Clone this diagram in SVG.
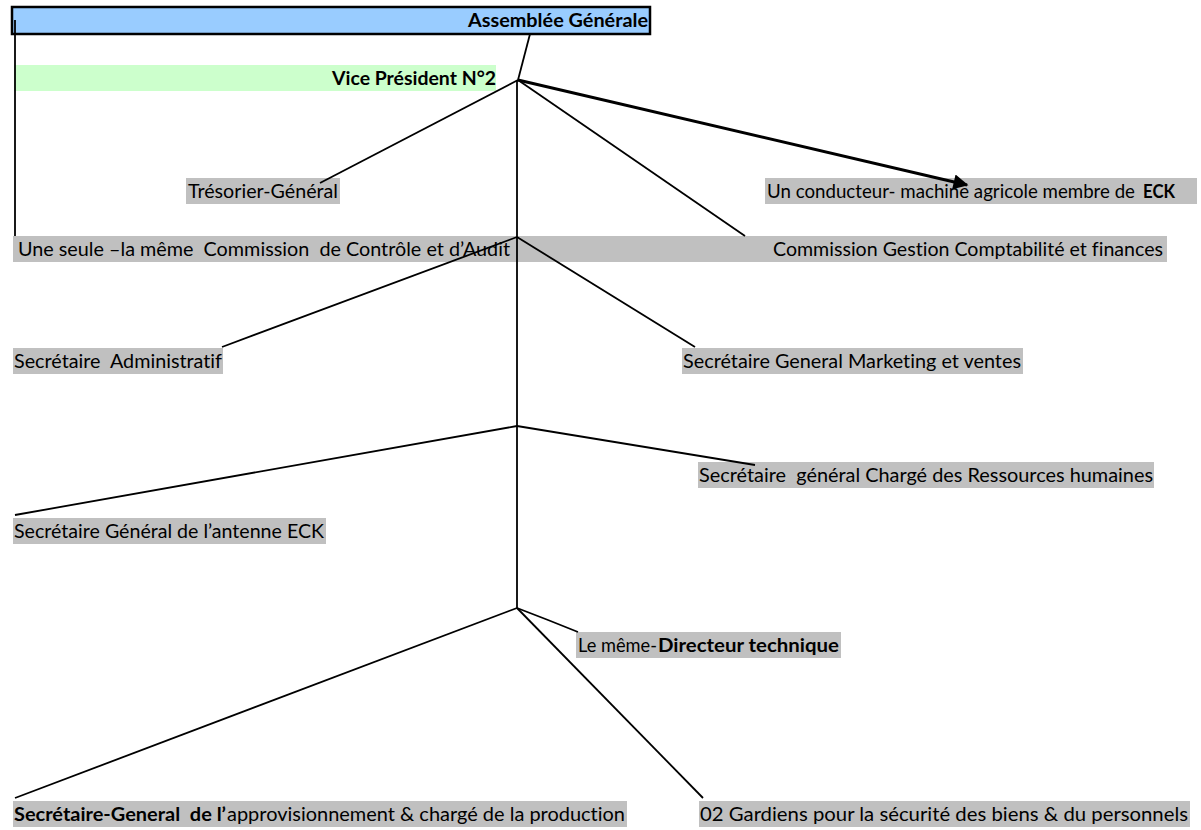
<svg xmlns="http://www.w3.org/2000/svg" width="1201" height="830" viewBox="0 0 1201 830">
<defs>
<style>
.t{font-family:Lato,"Liberation Sans",sans-serif;font-size:19.5px;fill:#000;white-space:pre;font-variant-ligatures:none}
.b{font-weight:bold}
.g{fill:#C0C0C0}
.ln{stroke:#000;stroke-width:1.8;fill:none}
</style>
<marker id="ah" viewBox="0 0 10 10" refX="9" refY="5" markerWidth="6" markerHeight="5" markerUnits="strokeWidth" orient="auto">
<path d="M0,0 L10,5 L0,10 z" fill="#000"/>
</marker>
</defs>
<rect width="1201" height="830" fill="#fff"/>
<g id="assemblee">
<rect x="12" y="7" width="638" height="27" fill="#99CCFF" stroke="#000" stroke-width="2.5"/>
<text class="t b" x="468" y="27" textLength="180" lengthAdjust="spacingAndGlyphs">Assemblée Générale</text>
</g>
<g id="vice-president">
<rect x="14" y="65" width="482" height="26" fill="#CCFFCC"/>
<text class="t b" x="332" y="85" textLength="164" lengthAdjust="spacingAndGlyphs">Vice Président N°2</text>
</g>
<g id="band">
<rect class="g" x="13" y="236" width="1154" height="26"/>
</g>
<g id="tresorier">
<rect class="g" x="186" y="178" width="154" height="26"/>
<text class="t" x="188" y="198" textLength="150" lengthAdjust="spacingAndGlyphs">Trésorier-Général</text>
</g>
<g id="conducteur">
<rect class="g" x="765" y="178" width="432" height="26"/>
<text class="t" x="767" y="198" style="font-size:19px" textLength="368" lengthAdjust="spacingAndGlyphs">Un conducteur- machine agricole membre de</text>
<text class="t b" x="1143" y="198" textLength="32" lengthAdjust="spacingAndGlyphs">ECK</text>
</g>
<g id="commission-audit">
<text class="t" x="18" y="256" textLength="492" lengthAdjust="spacingAndGlyphs">Une seule –la même  Commission  de Contrôle et d’Audit</text>
</g>
<g id="commission-gestion">
<text class="t" x="773" y="256" textLength="390" lengthAdjust="spacingAndGlyphs">Commission Gestion Comptabilité et finances</text>
</g>
<g id="sec-admin">
<rect class="g" x="13" y="348" width="210" height="26"/>
<text class="t" x="14" y="368" textLength="208" lengthAdjust="spacingAndGlyphs">Secrétaire  Administratif</text>
</g>
<g id="sec-marketing">
<rect class="g" x="682" y="348" width="341" height="26"/>
<text class="t" x="683" y="368" textLength="338" lengthAdjust="spacingAndGlyphs">Secrétaire General Marketing et ventes</text>
</g>
<g id="sec-rh">
<rect class="g" x="698" y="462" width="456" height="26"/>
<text class="t" x="699" y="482" textLength="454" lengthAdjust="spacingAndGlyphs">Secrétaire  général Chargé des Ressources humaines</text>
</g>
<g id="sec-antenne">
<rect class="g" x="13" y="518" width="313" height="26"/>
<text class="t" x="14" y="538" textLength="310" lengthAdjust="spacingAndGlyphs">Secrétaire Général de l’antenne ECK</text>
</g>
<g id="directeur-technique">
<rect class="g" x="576" y="632" width="265" height="26"/>
<text class="t" x="578" y="652" textLength="79" lengthAdjust="spacingAndGlyphs">Le même-</text>
<text class="t b" x="658" y="652" textLength="181" lengthAdjust="spacingAndGlyphs">Directeur technique</text>
</g>
<g id="sec-appro">
<rect class="g" x="13" y="801" width="614" height="26"/>
<text class="t b" x="14" y="821" textLength="212" lengthAdjust="spacingAndGlyphs">Secrétaire-General  de l’</text>
<text class="t" x="227" y="821" textLength="398" lengthAdjust="spacingAndGlyphs">approvisionnement &amp; chargé de la production</text>
</g>
<g id="gardiens">
<rect class="g" x="699" y="801" width="491" height="26"/>
<text class="t" x="700" y="821" textLength="488" lengthAdjust="spacingAndGlyphs">02 Gardiens pour la sécurité des biens &amp; du personnels</text>
</g>
<g id="connectors">
<line class="ln" x1="15" y1="20" x2="15" y2="236"/>
<line class="ln" x1="530" y1="34" x2="518" y2="80"/>
<line class="ln" x1="517" y1="80" x2="517" y2="608"/>
<line class="ln" x1="518" y1="80" x2="320" y2="183"/>
<line class="ln" x1="518" y1="80" x2="745" y2="236"/>
<line x1="518" y1="80" x2="967" y2="185" stroke="#000" stroke-width="3" marker-end="url(#ah)"/>
<line class="ln" x1="517" y1="237" x2="222" y2="347"/>
<line class="ln" x1="517" y1="237" x2="695" y2="347"/>
<line class="ln" x1="517" y1="426" x2="15" y2="515"/>
<line class="ln" x1="517" y1="426" x2="755" y2="465"/>
<polyline class="ln" points="517,608 548,620 578,632"/>
<line class="ln" x1="517" y1="608" x2="15" y2="798"/>
<line class="ln" x1="517" y1="608" x2="703" y2="798"/>
</g>
</svg>
